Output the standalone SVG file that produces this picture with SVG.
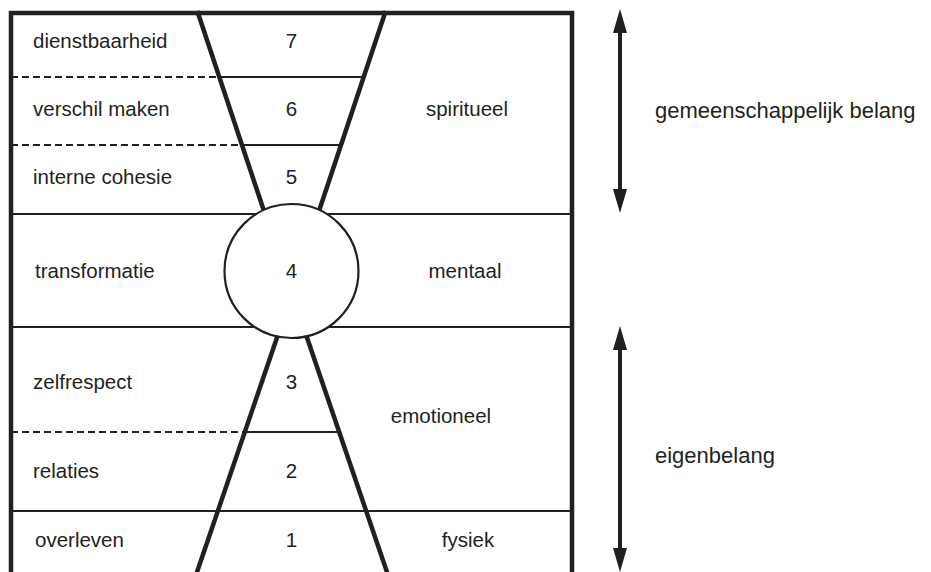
<svg xmlns="http://www.w3.org/2000/svg" width="931" height="572" viewBox="0 0 931 572">
<defs>
<style>
.t{font-family:"Liberation Sans",Arial,sans-serif;font-size:20.5px;fill:#231f20}
.c{text-anchor:middle}
.r{font-size:22px}
.thin{stroke:#231f20;stroke-width:2;fill:none}
.dash{stroke-dasharray:7 4}
.thick{stroke:#231f20;stroke-width:4.5;fill:none}
.arr{stroke:#231f20;stroke-width:4;fill:none}
</style>
<marker id="ah" markerUnits="userSpaceOnUse" markerWidth="24" markerHeight="14" refX="14" refY="7" orient="auto-start-reverse" viewBox="0 0 24 14">
<path d="M0,0 L24,7 L0,14 Z" fill="#231f20"/>
</marker>
</defs>
<rect width="931" height="572" fill="#fff"/>

<g id="grid">
<line class="thin dash" x1="11" y1="77" x2="219" y2="77"/>
<line class="thin" x1="219" y1="77" x2="364" y2="77"/>
<line class="thin dash" x1="11" y1="145" x2="242" y2="145"/>
<line class="thin" x1="242" y1="145" x2="341" y2="145"/>
<line class="thin" x1="11" y1="214" x2="572" y2="214"/>
<line class="thin" x1="11" y1="327" x2="572" y2="327"/>
<line class="thin dash" x1="11" y1="432" x2="245" y2="432"/>
<line class="thin" x1="245" y1="432" x2="339" y2="432"/>
<line class="thin" x1="11" y1="511" x2="572" y2="511"/>
</g>

<g id="funnels">
<line class="thick" x1="197.3" y1="11" x2="267" y2="220"/>
<line class="thick" x1="385.7" y1="11" x2="316" y2="220"/>
<line class="thick" x1="283" y1="320" x2="194.3" y2="580"/>
<line class="thick" x1="301" y1="320" x2="389.7" y2="580"/>
</g>

<g id="node-4">
<circle cx="291.5" cy="271" r="67" fill="#fff" stroke="#231f20" stroke-width="2.2"/>
<text class="t c" x="291.5" y="278">4</text>
</g>

<g id="border">
<path class="thick" d="M11,580 V13 H572 V580"/>
</g>

<g id="row-7">
<text class="t" x="33" y="48">dienstbaarheid</text>
<text class="t c" x="291.5" y="48">7</text>
</g>
<g id="row-6">
<text class="t" x="33" y="116">verschil maken</text>
<text class="t c" x="291.5" y="116">6</text>
</g>
<g id="row-5">
<text class="t" x="33" y="184">interne cohesie</text>
<text class="t c" x="291.5" y="184">5</text>
</g>
<g id="spiritueel">
<text class="t c" x="467" y="116">spiritueel</text>
</g>
<g id="row-4">
<text class="t" x="35" y="278">transformatie</text>
<text class="t c" x="465" y="278">mentaal</text>
</g>
<g id="row-3">
<text class="t" x="33" y="389">zelfrespect</text>
<text class="t c" x="291.5" y="389">3</text>
</g>
<g id="row-2">
<text class="t" x="33" y="478">relaties</text>
<text class="t c" x="291.5" y="478">2</text>
</g>
<g id="emotioneel">
<text class="t c" x="441" y="423">emotioneel</text>
</g>
<g id="row-1">
<text class="t" x="35" y="547">overleven</text>
<text class="t c" x="291.5" y="547">1</text>
<text class="t c" x="468" y="547">fysiek</text>
</g>

<g id="connectors">
<line class="arr" x1="620" y1="19" x2="620" y2="203" marker-start="url(#ah)" marker-end="url(#ah)"/>
<line class="arr" x1="620" y1="336" x2="620" y2="562" marker-start="url(#ah)" marker-end="url(#ah)"/>
</g>

<g id="label-gemeenschappelijk">
<text class="t r" x="655" y="118">gemeenschappelijk belang</text>
</g>
<g id="label-eigenbelang">
<text class="t r" x="655" y="463">eigenbelang</text>
</g>
</svg>
